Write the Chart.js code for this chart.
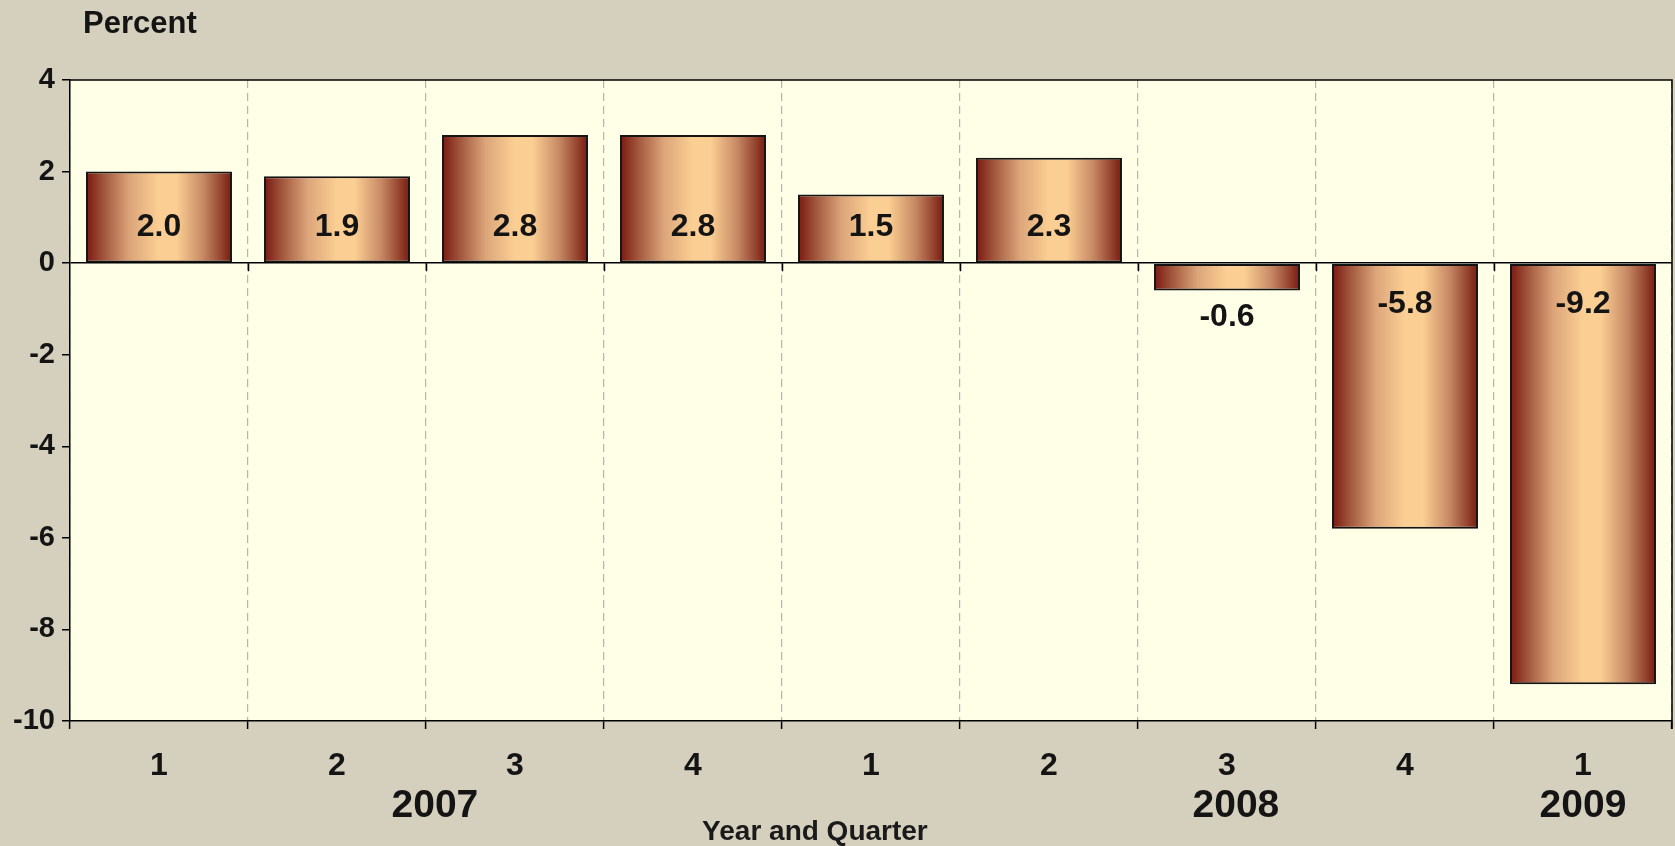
<!DOCTYPE html>
<html>
<head>
<meta charset="utf-8">
<script src="https://cdn.jsdelivr.net/npm/chart.js@4"></script>
<style>
  html, body { margin: 0; padding: 0; background: #d4d0bd; }
  #wrap { width: 1675px; height: 846px; }
</style>
</head>
<body>
<div id="wrap"><canvas id="gdpChart" width="1675" height="846"></canvas></div>
<script>
// quarterly percent change, 2007 Q1 .. 2009 Q1
const quarters = ['1', '2', '3', '4', '1', '2', '3', '4', '1'];
const values = [2.0, 1.9, 2.8, 2.8, 1.5, 2.3, -0.6, -5.8, -9.2];
const yearLabels = ['2007', '2008', '2009'];
const yearPositions = [1.55, 6.05, 8];
const yTicks = [4, 2, 0, -2, -4, -6, -8, -10];

const SANS = "'Liberation Sans', Arial, sans-serif";
const BAR_PCT = 0.82;

// horizontal dark-red -> peach -> dark-red fill for each bar
function barGradient(c) {
    const chart = c.chart;
    const xs = chart.scales.x;
    if (!xs || c.type !== 'data') return '#e0a878';
    const w = xs.width / quarters.length * BAR_PCT;
    const cx = xs.getPixelForValue(c.dataIndex);
    if (!isFinite(cx) || !isFinite(w) || w <= 0) return '#e0a878';
    const g = chart.ctx.createLinearGradient(cx - w / 2, 0, cx + w / 2, 0);
    g.addColorStop(0, '#7a1710');
    g.addColorStop(0.12, '#a0553c');
    g.addColorStop(0.3, '#dca57a');
    g.addColorStop(0.5, '#fbcf93');
    g.addColorStop(0.62, '#fbcf93');
    g.addColorStop(0.8, '#c88a66');
    g.addColorStop(0.93, '#93432e');
    g.addColorStop(1, '#7a1710');
    return g;
}

const decorPlugin = {
    id: 'decor',
    beforeDraw(chart) {
        const { ctx, chartArea: a } = chart;
        ctx.save();
        ctx.fillStyle = '#d4d0bd';
        ctx.fillRect(0, 0, chart.width, chart.height);
        ctx.fillStyle = '#fffee6';
        ctx.fillRect(a.left, a.top, a.right - a.left, a.bottom - a.top);
        ctx.restore();
    },
    afterDatasetsDraw(chart) {
        const { ctx, chartArea: a } = chart;
        const xs = chart.scales.x, ys = chart.scales.y;
        const zero = ys.getPixelForValue(0);
        ctx.save();
        // value labels
        ctx.fillStyle = '#141414';
        ctx.font = 'bold 32px ' + SANS;
        ctx.textAlign = 'center';
        ctx.textBaseline = 'middle';
        chart.getDatasetMeta(0).data.forEach((bar, i) => {
            const v = values[i];
            let y;
            if (v >= 0) y = zero - 36;
            else if (bar.y - zero < 50) y = bar.y + 27;
            else y = zero + 41;
            ctx.fillText(v.toFixed(1), bar.x, y);
        });
        // small ticks hanging from the zero line at the category boundaries
        ctx.strokeStyle = '#000';
        ctx.lineWidth = 1.5;
        const step = (xs.right - xs.left) / quarters.length;
        ctx.beginPath();
        for (let i = 1; i < quarters.length; i++) {
            const x = Math.round(xs.left + i * step) + 0.5;
            ctx.moveTo(x, zero);
            ctx.lineTo(x, zero + 8);
        }
        ctx.stroke();
        // frame top and right
        ctx.beginPath();
        ctx.moveTo(a.left, a.top);
        ctx.lineTo(a.right, a.top);
        ctx.lineTo(a.right, a.bottom + 8);
        ctx.stroke();
        // titles
        ctx.fillStyle = '#141414';
        ctx.textAlign = 'left';
        ctx.font = 'bold 31px ' + SANS;
        ctx.fillText('Percent', a.left + 13, 24);
        ctx.textAlign = 'center';
        ctx.font = 'bold 28px ' + SANS;
        ctx.fillStyle = '#1a1a1a';
        ctx.fillText('Year and Quarter', a.left + (a.right - a.left) * 0.465, 832);
        ctx.restore();
    }
};

const ctx = document.getElementById('gdpChart').getContext('2d');
new Chart(ctx, {
    type: 'bar',
    data: {
        labels: quarters,
        datasets: [{
            data: values,
            backgroundColor: barGradient,
            borderColor: '#141414',
            borderWidth: 2,
            borderSkipped: false,
            barPercentage: BAR_PCT,
            categoryPercentage: 1
        }]
    },
    options: {
        responsive: false,
        animation: false,
        layout: { padding: { top: 80, left: 0, right: 3, bottom: 13 } },
        plugins: {
            legend: { display: false },
            tooltip: { enabled: false }
        },
        scales: {
            x: {
                type: 'category',
                position: 'bottom',
                offset: true,
                grid: {
                    offset: true,
                    color: '#b4b4b4',
                    lineWidth: 1.2,
                    tickColor: '#000',
                    tickWidth: 1.5,
                    tickLength: 8
                },
                border: { color: '#000', width: 1.5, dash: [8, 5] },
                ticks: {
                    autoSkip: false,
                    maxRotation: 0,
                    padding: 18,
                    color: '#141414',
                    font: { family: SANS, size: 32, weight: 'bold' }
                },
                afterFit: (s) => { s.height = 62; }
            },
            years: {
                type: 'linear',
                position: 'bottom',
                offset: false,
                min: -0.5,
                max: 8.5,
                grid: { display: false, drawTicks: false, offset: false },
                border: { display: false },
                ticks: {
                    autoSkip: false,
                    maxRotation: 0,
                    padding: 4,
                    color: '#141414',
                    font: { family: SANS, size: 39, weight: 'bold', lineHeight: 1 },
                    callback: (v) => yearLabels[yearPositions.indexOf(v)]
                },
                afterBuildTicks: (s) => { s.ticks = yearPositions.map(v => ({ value: v })); },
                afterFit: (s) => { s.height = 50; }
            },
            y: {
                min: -10,
                max: 4,
                afterBuildTicks: (s) => { s.ticks = yTicks.map(v => ({ value: v })); },
                grid: {
                    color: (c) => c.tick && c.tick.value === 0 ? '#000' : 'rgba(0,0,0,0)',
                    lineWidth: 1.5,
                    tickColor: '#000',
                    tickLength: 8
                },
                border: { color: '#000', width: 1.5 },
                ticks: {
                    padding: 7,
                    color: '#141414',
                    font: { family: SANS, size: 29, weight: 'bold' }
                },
                afterFit: (s) => { s.width = 70; }
            }
        }
    },
    plugins: [decorPlugin]
});
</script>
</body>
</html>
